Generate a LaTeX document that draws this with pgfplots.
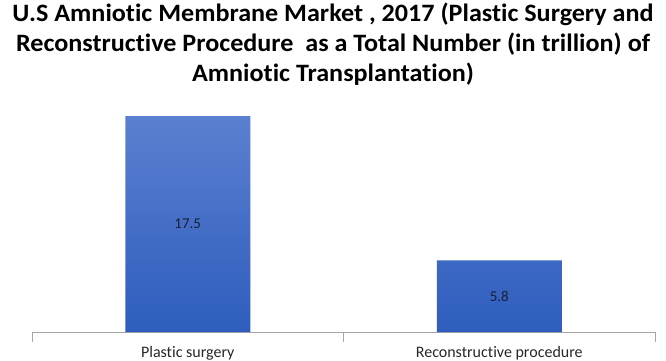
\documentclass[border=0pt]{standalone}
\usepackage{pgfplots}
\pgfplotsset{compat=1.18}
\usepackage{fontspec}
\setmainfont{Carlito}[Ligatures=NoCommon]
\definecolor{bartop}{HTML}{5B80D0}
\definecolor{barbot}{HTML}{2E5DBD}
\definecolor{axgray}{HTML}{A6A6A6}
\definecolor{lbl}{HTML}{1A1F33}
\begin{document}
\begin{tikzpicture}
\useasboundingbox (0,0) rectangle (666pt,361pt);
\node[align=center, font=\fontsize{25}{30}\selectfont\bfseries, anchor=north, xscale=1.045, inner sep=0pt] at (333pt,358pt)
{U.S Amniotic Membrane Market , 2017 (Plastic Surgery and\\
Reconstructive Procedure\ \ as a Total Number (in trillion) of\\
Amniotic Transplantation)};
\begin{axis}[
  at={(32pt,29pt)}, anchor=south west,
  scale only axis, width=623pt, height=246.8pt,
  xmin=-0.5, xmax=1.5, ymin=0, ymax=20,
  axis x line=bottom, axis y line=none,
  axis line style={axgray, -},
  x axis line style={-},
  xtick={0,1}, xticklabels={Plastic surgery, Reconstructive procedure},
  major tick length=0pt,
  extra x ticks={-0.5,0.5,1.5}, extra x tick labels={},
  extra x tick style={major tick length=10pt, tick style={axgray}},
  xticklabel style={font=\fontsize{16}{18}\selectfont, yshift=-11pt, text=black!85},
  ytick=\empty,
  clip=false,
  ybar, bar width=125pt,
  /pgf/number format/assume math mode=true,
]
\addplot[draw=none, top color=bartop, bottom color=barbot,
  visualization depends on={rawy \as \rawy},
  nodes near coords={\pgfmathprintnumber[fixed,precision=1,fixed zerofill]{\pgfplotspointmeta}},
  every node near coord/.append style={anchor=center, font=\fontsize{15}{17}\selectfont, text=lbl,
    shift={(axis direction cs:0,-\rawy/2)}},
] coordinates {(0,17.5) (1,5.8)};
\end{axis}
\end{tikzpicture}
\end{document}
